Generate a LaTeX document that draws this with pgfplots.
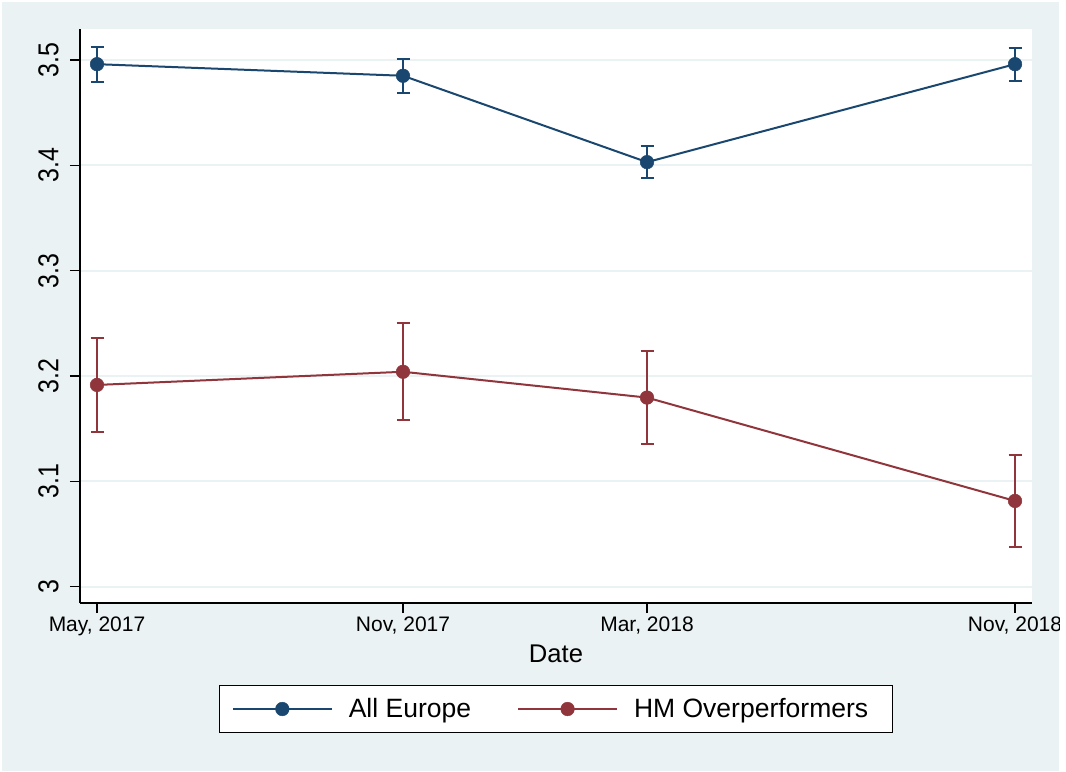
\documentclass[border=0pt]{standalone}
\usepackage{fontspec}
\setmainfont{Liberation Sans}
\usepackage{pgfplots}
\usepackage{pgfplotstable}
\pgfplotsset{compat=1.18}
\definecolor{bgc}{HTML}{EAF2F3}
\definecolor{snavy}{HTML}{1A476F}
\definecolor{smaroon}{HTML}{90353B}

\pgfplotstableread{
x y e
0 3.496 0.0165
306 3.485 0.016
550 3.403 0.0155
918 3.496 0.0155
}\europe
\pgfplotstableread{
x y e
0 3.1915 0.045
306 3.204 0.046
550 3.1795 0.044
918 3.0814 0.044
}\hm

\begin{document}
\begin{tikzpicture}
\useasboundingbox (0,0) rectangle (1066bp,772bp);
\fill[white] (0,0) rectangle (1066bp,772bp);
\fill[bgc] (2bp,1bp) rectangle (1059bp,770bp);
\begin{scope}
\clip (2bp,1bp) rectangle (1059bp,770bp);
\begin{axis}[
 scale only axis, width=952bp, height=574bp,
 anchor=south west, at={(80bp,169bp)},
 xmin=-17, xmax=935, ymin=2.9845, ymax=3.5294,
 axis x line*=bottom, axis y line*=left,
 axis line style={-, black, line width=1.3bp},
 axis background/.style={fill=white},
 xtick={0,306,550,918},
 xticklabels={{May, 2017},{Nov, 2017},{Mar, 2018},{Nov, 2018}},
 ytick={3,3.1,3.2,3.3,3.4,3.5},
 yticklabels={3,3.1,3.2,3.3,3.4,3.5},
 tick align=outside, major tick length=10bp,
 tick style={black, line width=1.3bp},
 ymajorgrids, major grid style={bgc, line width=1.8bp},
 xticklabel style={font=\fontsize{21bp}{25bp}\selectfont},
 yticklabel style={font=\fontsize{25bp}{29bp}\selectfont, rotate=90, anchor=south, yscale=1.15, inner sep=0pt},
 yticklabel shift=11bp,
 xlabel={Date},
 xlabel style={font=\fontsize{25.6bp}{30bp}\selectfont, yshift=-3bp},
 legend columns=2,
 legend style={at={(0.5,-0.1429)}, anchor=north, draw=black, line width=1.3bp, fill=white,
   font=\fontsize{26.5bp}{30bp}\selectfont, inner xsep=12bp, inner ysep=13bp,
   column sep=0pt,
   /tikz/every odd column/.append style={column sep=16bp},
   /tikz/every even column/.append style={column sep=46bp},
   nodes={inner sep=0pt}},
 legend cell align=left,
 legend image code/.code={\draw[mark repeat=2,mark phase=2,#1] plot coordinates {(0bp,0bp) (49.5bp,0bp) (99bp,0bp)};},
]
\addplot+[snavy, line width=2bp, mark=*, mark size=6.8bp, mark options={solid, fill=snavy, draw=snavy, line width=0.5bp},
  error bars/.cd, y dir=both, y explicit,
  error bar style={line width=2bp, snavy},
  error mark options={rotate=90, line width=2bp, mark size=6.5bp, snavy}]
  table[x=x, y=y, y error=e] {\europe};
\addlegendentry{All Europe}
\addplot+[smaroon, line width=2bp, mark=*, mark size=6.8bp, mark options={solid, fill=smaroon, draw=smaroon, line width=0.5bp},
  error bars/.cd, y dir=both, y explicit,
  error bar style={line width=2bp, smaroon},
  error mark options={rotate=90, line width=2bp, mark size=6.5bp, smaroon}]
  table[x=x, y=y, y error=e] {\hm};
\addlegendentry{HM Overperformers\hspace*{12bp}}
\end{axis}
\end{scope}
\end{tikzpicture}
\end{document}
